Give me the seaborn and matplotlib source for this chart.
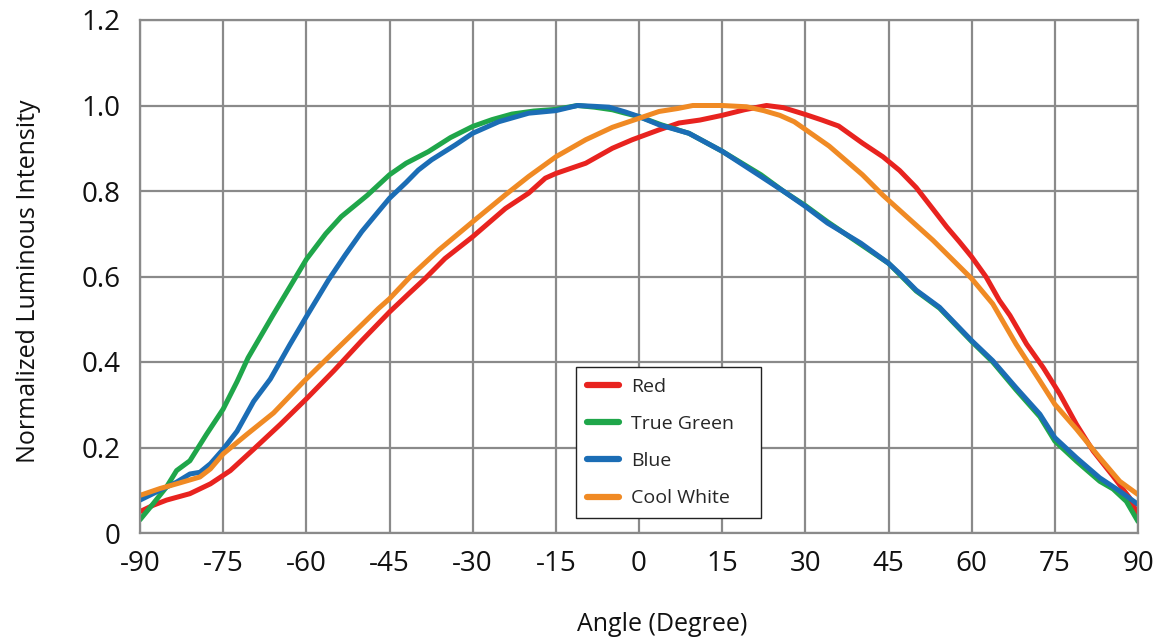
import numpy as np
import pandas as pd
import matplotlib
matplotlib.use("Agg")
import matplotlib.pyplot as plt
import seaborn as sns

series_names = ["Red", "True Green", "Blue", "Cool White"]
series_colors = ["#E8231F", "#1FA64A", "#1B6DB5", "#F08A24"]

red_x = [-90, -87.6, -85.2, -81, -77.3, -73.7, -69.5, -64.7, -59.9, -55, -50, -45, -41.5, -38.6, -35, -30, -28.3, -24.1, -19.9, -16.9, -15, -9.6, -4.8, -1.2, 3.6, 7.2, 11, 15, 19, 23, 26, 30, 33, 36, 40.3, 44, 47, 50, 53, 55.5, 57.8, 60, 62.6, 65, 66.9, 69.9, 72.9, 75.9, 78.9, 81.9, 85.5, 88.5, 90]
red_y = [0.05, 0.065, 0.077, 0.092, 0.115, 0.146, 0.196, 0.254, 0.315, 0.38, 0.45, 0.517, 0.56, 0.595, 0.642, 0.693, 0.712, 0.759, 0.795, 0.83, 0.841, 0.865, 0.9, 0.92, 0.943, 0.959, 0.966, 0.977, 0.99, 1.0, 0.995, 0.979, 0.966, 0.952, 0.912, 0.88, 0.848, 0.808, 0.758, 0.716, 0.681, 0.646, 0.599, 0.544, 0.509, 0.442, 0.387, 0.325, 0.254, 0.192, 0.133, 0.082, 0.043]

green_x = [-90, -87.6, -85.2, -83.4, -81, -78, -75, -72.5, -70.5, -66, -63, -60, -56.5, -53.7, -49, -45, -42, -38, -34, -30, -26.5, -22.9, -19, -15, -11.1, -8, -4.8, -2.5, 0, 4, 9, 15, 22, 26, 30, 34, 40, 45, 50, 54.2, 60, 63.8, 68, 72.3, 75, 78.9, 83.1, 85.5, 87.9, 90]
green_y = [0.031, 0.069, 0.108, 0.146, 0.169, 0.231, 0.29, 0.354, 0.41, 0.51, 0.575, 0.64, 0.70, 0.74, 0.79, 0.838, 0.865, 0.892, 0.925, 0.951, 0.967, 0.98, 0.987, 0.991, 1.0, 0.996, 0.99, 0.982, 0.974, 0.955, 0.935, 0.893, 0.838, 0.80, 0.766, 0.728, 0.675, 0.631, 0.566, 0.526, 0.448, 0.40, 0.335, 0.272, 0.215, 0.168, 0.121, 0.103, 0.074, 0.027]

blue_x = [-90, -86.4, -83.4, -81, -79.2, -77.3, -75, -72.5, -69.5, -66.5, -63, -60, -56, -53, -50, -47, -45, -42, -39.8, -37.4, -33.1, -30, -25.3, -19.9, -15, -11.1, -8, -5.4, -2.5, 0, 3.6, 9, 15, 22, 26, 30, 34, 40, 45, 47, 50, 54.2, 60, 63.8, 68, 72.3, 75, 78.9, 83.1, 86.7, 90]
blue_y = [0.077, 0.1, 0.119, 0.138, 0.142, 0.162, 0.196, 0.238, 0.308, 0.36, 0.44, 0.506, 0.592, 0.65, 0.705, 0.752, 0.783, 0.82, 0.849, 0.873, 0.908, 0.935, 0.962, 0.982, 0.988, 1.0, 0.998, 0.996, 0.985, 0.974, 0.955, 0.935, 0.893, 0.834, 0.80, 0.764, 0.725, 0.678, 0.631, 0.607, 0.568, 0.528, 0.45, 0.403, 0.34, 0.278, 0.223, 0.176, 0.129, 0.098, 0.067]

white_x = [-90, -86.4, -83.4, -79.2, -77.3, -75, -70.7, -65.9, -60.5, -55, -50, -47, -45, -41, -36.1, -30, -24.1, -19.9, -15, -9.6, -4.8, 0, 3.6, 7, 9.7, 12, 15, 19.4, 22.5, 25.4, 28, 30, 34.3, 40.3, 44, 47, 53, 60, 63.8, 68, 72.3, 75, 78.9, 83.1, 86.7, 90]
white_y = [0.088, 0.104, 0.115, 0.131, 0.15, 0.185, 0.231, 0.281, 0.354, 0.424, 0.487, 0.525, 0.548, 0.603, 0.662, 0.728, 0.791, 0.834, 0.88, 0.92, 0.949, 0.97, 0.986, 0.993, 1.0, 1.0, 1.0, 0.997, 0.988, 0.977, 0.962, 0.944, 0.905, 0.838, 0.79, 0.755, 0.685, 0.595, 0.536, 0.442, 0.356, 0.301, 0.243, 0.176, 0.121, 0.09]

x_ticks = [-90, -75, -60, -45, -30, -15, 0, 15, 30, 45, 60, 75, 90]
x_tick_labels = ["-90", "-75", "-60", "-45", "-30", "-15", "0", "15", "30", "45", "60", "75", "90"]
y_ticks = [0, 0.2, 0.4, 0.6, 0.8, 1.0, 1.2]
y_tick_labels = ["0", "0.2", "0.4", "0.6", "0.8", "1.0", "1.2"]

frames = []
for name, xs, ys in zip(series_names, [red_x, green_x, blue_x, white_x], [red_y, green_y, blue_y, white_y]):
    frames.append(pd.DataFrame({"Angle": xs, "Intensity": ys, "Series": name}))
df = pd.concat(frames, ignore_index=True)

sns.set_theme(style="white")
plt.rcParams["font.family"] = ["Open Sans", "DejaVu Sans"]

fig = plt.figure(figsize=(11.65, 6.4), dpi=100)
ax = fig.add_axes([140 / 1165, 107 / 640, 998 / 1165, 513 / 640])

sns.lineplot(data=df, x="Angle", y="Intensity", hue="Series", hue_order=series_names,
             palette=dict(zip(series_names, series_colors)), linewidth=3.6,
             sort=False, estimator=None, ax=ax, legend=True)
for ln in ax.get_lines():
    ln.set_solid_joinstyle("round")

ax.set_xlim(-90, 90)
ax.set_ylim(0, 1.2)
ax.set_xticks(x_ticks)
ax.set_xticklabels(x_tick_labels, fontsize=20)
ax.set_yticks(y_ticks)
ax.set_yticklabels(y_tick_labels, fontsize=20)
ax.tick_params(axis="x", length=0, pad=12, colors="#111111")
ax.tick_params(axis="y", length=0, pad=14, colors="#111111")
ax.grid(True, color="#8a8a8a", linewidth=1.6)
for s in ax.spines.values():
    s.set_color("#8a8a8a")
    s.set_linewidth(1.6)
ax.set_xlabel("Angle (Degree)", fontsize=18, color="#111111")
ax.set_ylabel("Normalized Luminous Intensity", fontsize=18, color="#111111")
ax.xaxis.set_label_coords(0.523, -0.154)
ax.yaxis.set_label_coords(-0.099, 0.49)

leg = ax.legend(loc="upper left", bbox_to_anchor=(0.437, 0.323, 0.185, 0.0), mode="expand",
                borderaxespad=0, frameon=True, fancybox=False, fontsize=14, handlelength=1.65,
                labelspacing=0.98, borderpad=0.56, handletextpad=0.6)
leg.get_frame().set_edgecolor("#222222")
leg.get_frame().set_linewidth(1.0)
leg.get_frame().set_alpha(1)
for line in leg.get_lines():
    line.set_linewidth(4.5)
    line.set_solid_capstyle("round")

fig.savefig("out.png", dpi=100)
